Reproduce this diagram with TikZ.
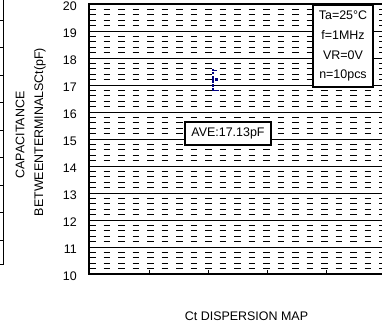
\documentclass[tikz,border=0pt]{standalone}
\usepackage{fontspec}
\setmainfont{Liberation Sans}
\usetikzlibrary{positioning}

\begin{document}
\begin{tikzpicture}[x=1bp, y=1bp]
    \tikzset{
        label font/.style={font=\fontsize{12.5}{15}\selectfont},
        griddash/.style={line width=0.9bp, dash pattern=on 6.5bp off 8bp},
        gridline/.style={line width=0.8bp},
        framebox/.style={draw, line width=1.3bp, fill=white, label font},
        datapt/.style={fill=blue!50!black, inner sep=0pt, minimum size=2.2bp},
    }
    \useasboundingbox (0,0) rectangle (382,331);
    \clip (0,0) rectangle (382,331);

    % Edge of the next chart
    \draw[line width=1bp] (3,331) -- (3,66) -- (0,66);
    \foreach \k in {0,...,8}
        \draw[line width=0.8bp] (0,311-27.5*\k) -- (3,311-27.5*\k);

    % Plot area, y in pF
    \begin{scope}[shift={(0,-213)}, y=27bp]
        % Draw the dashed lines
        \foreach \v in {10,...,19}
            \foreach \f in {0.2,0.4,0.6,0.8}
                \draw[griddash] (89,{\v+\f}) -- (390,{\v+\f});

        % Draw the solid lines
        \foreach \v in {11,...,19}
            \draw[gridline] (89,\v) -- (390,\v);

        % Draw the frame
        \draw[line width=1.3bp] (390,10) -- (89,10) -- (89,20) -- (390,20);
        \foreach \tx in {149,208,267,326}
            \draw[line width=0.8bp] (\tx,10) -- ++(0,4bp);

        \foreach \v in {10,...,20}
            \node[label font, anchor=east, inner sep=0pt, yshift=-2bp] (ytick\v) at (77,\v) {\v};

        % Draw the measured values
        \foreach \c [count=\i] in {17.55,17.45,17.3,17.2,17.15,17.1,17.0,16.95,16.85,16.8}
            \node[datapt] (pt\i) at (213,\c) {};
        \draw[blue!50!black, line width=1bp] (pt1.center) -- ++(4bp,0);
        \draw[blue!50!black, line width=1bp] (pt10.center) -- ++(6bp,0);
        \node[datapt] (ptmid) at (216.5,17.2) {};
    \end{scope}

    % Conditions and average
    \node[framebox, minimum width=60bp, minimum height=82bp, align=center,
          font=\fontsize{12.5}{20}\selectfont] (cond) at (343,285)
        {Ta=25°C\\f=1MHz\\VR=0V\\n=10pcs};
    \node[framebox, minimum width=86bp, minimum height=23bp] (ave) at (228,197.5)
        {AVE:17.13pF};

    % Axis titles
    \node[label font, rotate=90] (ytitle1) at (20,196) {CAPACITANCE};
    \node[label font, rotate=90] (ytitle2) at (40,199) {BETWEENTERMINALSCt(pF)};
    \node[label font] (xtitle) at (246.5,15) {Ct DISPERSION MAP};
\end{tikzpicture}
\end{document}
